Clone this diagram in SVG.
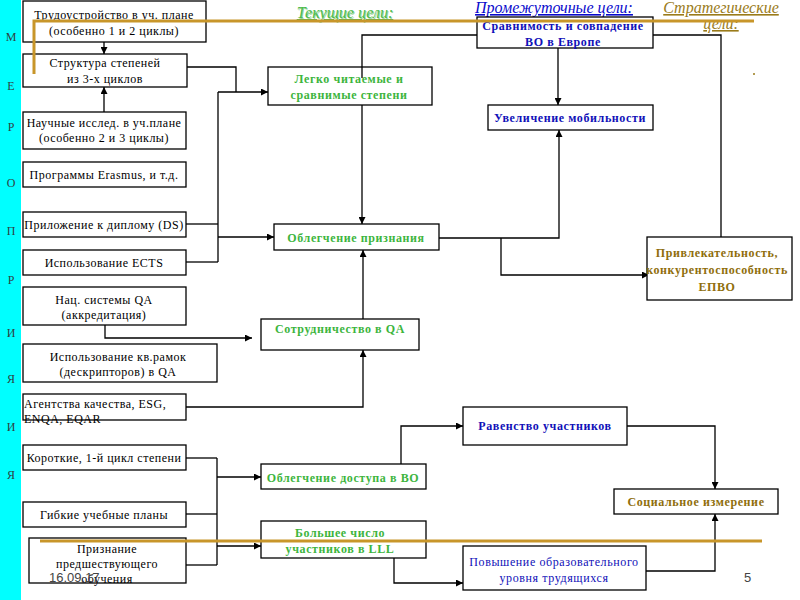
<svg xmlns="http://www.w3.org/2000/svg" width="800" height="600" viewBox="0 0 800 600">
<defs>
<marker id="ah" viewBox="0 0 10 10" refX="10" refY="5" markerWidth="7" markerHeight="7" markerUnits="userSpaceOnUse" orient="auto">
<path d="M0,0 L10,5 L0,10 z" fill="#000"/>
</marker>
<style>
.box{fill:#fff;stroke:#000;stroke-width:1.3}
.t{font-family:"Liberation Serif","DejaVu Serif",serif;font-size:12px;fill:#000;text-anchor:middle;letter-spacing:0.5px}
.tl{font-family:"Liberation Serif","DejaVu Serif",serif;font-size:12px;fill:#000;text-anchor:start;letter-spacing:0.5px}
.g{font-family:"Liberation Serif","DejaVu Serif",serif;font-size:12px;font-weight:bold;fill:#3DB53D;text-anchor:middle;letter-spacing:0.6px}
.b{font-family:"Liberation Serif","DejaVu Serif",serif;font-size:12px;font-weight:bold;fill:#1010B8;text-anchor:middle;letter-spacing:0.6px}
.bn{font-family:"Liberation Serif","DejaVu Serif",serif;font-size:12px;fill:#1010B8;text-anchor:middle;letter-spacing:0.6px}
.o{font-family:"Liberation Serif","DejaVu Serif",serif;font-size:12px;font-weight:bold;fill:#8F6E0C;text-anchor:middle;letter-spacing:0.6px}
.c line,.c path{stroke:#000;stroke-width:1.3;fill:none}
.side{font-family:"Liberation Serif","DejaVu Serif",serif;font-size:12px;fill:#2F3F3F;text-anchor:middle}
.h{font-family:"Liberation Serif","DejaVu Serif",serif;font-size:16px;font-style:italic;text-decoration:underline;text-anchor:middle}
.gold{stroke:#C8962A;stroke-width:3;fill:none}
.foot{font-family:"Liberation Sans","DejaVu Sans",sans-serif;font-size:13px;fill:#444}
</style>
</defs>
<rect x="0" y="0" width="800" height="600" fill="#fff"/>
<rect x="0" y="0" width="21" height="600" fill="#00FFFF"/>
<g id="side">
<text class="side" x="11" y="41">М</text>
<text class="side" x="11" y="90">Е</text>
<text class="side" x="11" y="131">Р</text>
<text class="side" x="11" y="187">О</text>
<text class="side" x="11" y="235">П</text>
<text class="side" x="11" y="284">Р</text>
<text class="side" x="11" y="337">И</text>
<text class="side" x="11" y="383">Я</text>
<text class="side" x="11" y="431">И</text>
<text class="side" x="11" y="479">Я</text>
</g>
<g id="headers">
<text class="h" x="345" y="18" fill="#9AD49A" dx="1" dy="1">Текущие цели:</text>
<text class="h" x="345" y="18" fill="#4CBB4C">Текущие цели:</text>
<text class="h" x="554" y="13" fill="#0A0ACC">Промежуточные цели:</text>
<text class="h" x="721" y="13" fill="#9A7B1A">Стратегические</text>
<text class="h" x="721" y="29" fill="#9A7B1A">цели:</text>
<circle cx="754" cy="74" r="1" fill="#9A7B1A"/>
</g>
<g class="c" id="connectors">
<line x1="104" y1="42" x2="104" y2="54" marker-end="url(#ah)"/>
<line x1="104" y1="112" x2="104" y2="87" marker-end="url(#ah)"/>
<path d="M187,67 H236 V92"/>
<line x1="218" y1="92" x2="268" y2="92" marker-end="url(#ah)"/>
<line x1="218" y1="92" x2="218" y2="262"/>
<line x1="186" y1="224" x2="218" y2="224"/>
<line x1="186" y1="262" x2="218" y2="262"/>
<line x1="218" y1="237" x2="274" y2="237" marker-end="url(#ah)"/>
<path d="M362,105 V224" marker-end="url(#ah)"/>
<path d="M653,35 H721 V247" marker-end="url(#ah)"/>
<line x1="558" y1="48" x2="558" y2="105" marker-end="url(#ah)"/>
<path d="M439,238 H559 V130" marker-end="url(#ah)"/>
<path d="M501,238 V275 H649" marker-end="url(#ah)"/>
<path d="M105,325 V338 H252" marker-end="url(#ah)"/>
<path d="M186,407 H363 V350" marker-end="url(#ah)"/>
<line x1="363" y1="319" x2="363" y2="250" marker-end="url(#ah)"/>
<line x1="186" y1="458" x2="217" y2="458"/>
<line x1="217" y1="458" x2="217" y2="565"/>
<line x1="186" y1="514" x2="217" y2="514"/>
<line x1="186" y1="565" x2="217" y2="565"/>
<line x1="217" y1="477" x2="261" y2="477" marker-end="url(#ah)"/>
<line x1="217" y1="546" x2="261" y2="546" marker-end="url(#ah)"/>
<path d="M401,464 V426 H463" marker-end="url(#ah)"/>
<path d="M627,426 H715 V489" marker-end="url(#ah)"/>
<path d="M394,558 V583 H463" marker-end="url(#ah)"/>
<path d="M646,571 H715 V514" marker-end="url(#ah)"/>
</g>
<g id="n1"><rect class="box" x="23" y="1" width="183" height="41"/><text class="t" x="114" y="19">Трудоустройство в уч. плане</text><text class="t" x="114" y="35">(особенно 1 и 2 циклы)</text></g>
<g id="n2"><rect class="box" x="23" y="54" width="164" height="33"/><text class="t" x="105" y="67">Структура степеней</text><text class="t" x="105" y="83">из 3-х циклов</text></g>
<g id="n3"><rect class="box" x="23" y="112" width="163" height="37"/><text class="t" x="104" y="127">Научные исслед. в уч.плане</text><text class="t" x="104" y="142">(особенно 2 и 3 циклы)</text></g>
<g id="n4"><rect class="box" x="23" y="162" width="163" height="25"/><text class="t" x="104" y="179">Программы Erasmus, и т.д.</text></g>
<g id="n5"><rect class="box" x="23" y="212" width="163" height="25"/><text class="t" x="104" y="229">Приложение к диплому (DS)</text></g>
<g id="n6"><rect class="box" x="23" y="250" width="163" height="25"/><text class="t" x="104" y="267">Использование ECTS</text></g>
<g id="n7"><rect class="box" x="23" y="287" width="163" height="38"/><text class="t" x="104" y="304">Нац. системы QA</text><text class="t" x="104" y="319">(аккредитация)</text></g>
<g id="n8"><rect class="box" x="23" y="344" width="194" height="38"/><text class="t" x="118" y="361">Использование кв.рамок</text><text class="t" x="118" y="376">(дескрипторов) в QA</text></g>
<g id="n9"><rect class="box" x="23" y="394" width="163" height="26"/><text class="tl" x="24" y="408">Агентства качества, ESG,</text><text class="tl" x="24" y="423">ENQA, EQAR</text></g>
<g id="n10"><rect class="box" x="23" y="445" width="163" height="25"/><text class="t" x="104" y="462">Короткие, 1-й цикл степени</text></g>
<g id="n11"><rect class="box" x="23" y="502" width="163" height="25"/><text class="t" x="104" y="519">Гибкие учебные планы</text></g>
<g id="n12"><rect class="box" x="29" y="538" width="157" height="45"/><text class="t" x="107" y="553">Признание</text><text class="t" x="107" y="568">предшествующего</text><text class="t" x="107" y="583">обучения</text></g>
<g id="n13"><rect class="box" x="268" y="67" width="164" height="38"/><text class="g" x="349" y="83">Легко читаемые и</text><text class="g" x="349" y="99">сравнимые степени</text></g>
<path d="M362,78 V35 H484" fill="none" stroke="#000" stroke-width="1.3" marker-end="url(#ah)"/>
<g id="n14"><rect class="box" x="477" y="17" width="176" height="31"/><text class="b" x="563" y="30">Сравнимость и совпадение</text><text class="b" x="563" y="46">ВО в Европе</text></g>
<g id="n15"><rect class="box" x="488" y="105" width="165" height="25"/><text class="b" x="570" y="122">Увеличение мобильности</text></g>
<g id="n16"><rect class="box" x="274" y="224" width="165" height="26"/><text class="g" x="356" y="242">Облегчение признания</text></g>
<g id="n17"><rect class="box" x="647" y="237" width="145" height="63"/><text class="o" x="717" y="257">Привлекательность,</text><text class="o" x="717" y="274">конкурентоспособность</text><text class="o" x="717" y="291">ЕПВО</text></g>
<g id="n18"><rect class="box" x="261" y="319" width="158" height="31"/><text class="g" x="340" y="333">Сотрудничество в QA</text></g>
<g id="n19"><rect class="box" x="463" y="407" width="164" height="38"/><text class="b" x="545" y="430">Равенство участников</text></g>
<g id="n20"><rect class="box" x="261" y="464" width="165" height="25"/><text class="g" x="343" y="482">Облегчение доступа в ВО</text></g>
<g id="n21"><rect class="box" x="614" y="489" width="164" height="25"/><text class="o" x="696" y="506">Социальное измерение</text></g>
<g id="n22"><rect class="box" x="261" y="521" width="165" height="37"/><text class="g" x="340" y="537">Большее число</text><text class="g" x="340" y="553">участников  в LLL</text></g>
<g id="n23"><rect class="box" x="463" y="546" width="183" height="44"/><text class="bn" x="554" y="566">Повышение образовательного</text><text class="bn" x="554" y="582">уровня трудящихся</text></g>
<path class="gold" d="M34,74 V21 H754"/>
<path class="gold" d="M40,541 H762"/>
<text class="foot" x="49" y="582">16.09.17</text>
<text class="foot" x="744" y="582">5</text>
</svg>
